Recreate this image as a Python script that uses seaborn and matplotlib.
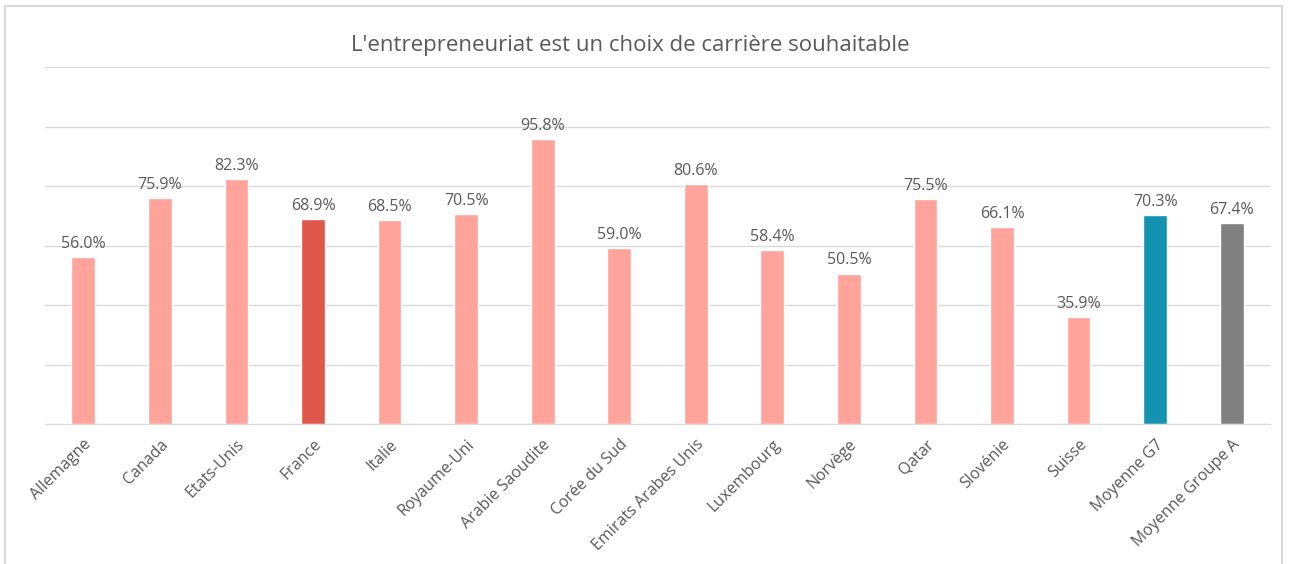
import matplotlib
matplotlib.use("Agg")
import matplotlib.pyplot as plt
import seaborn as sns
import pandas as pd
from matplotlib.patches import Rectangle

categories = ["Allemagne", "Canada", "Etats-Unis", "France", "Italie", "Royaume-Uni",
              "Arabie Saoudite", "Corée du Sud", "Emirats Arabes Unis", "Luxembourg",
              "Norvège", "Qatar", "Slovénie", "Suisse", "Moyenne G7", "Moyenne Groupe A"]
values = [56.0, 75.9, 82.3, 68.9, 68.5, 70.5, 95.8, 59.0, 80.6, 58.4, 50.5, 75.5, 66.1, 35.9, 70.3, 67.4]
title = "L'entrepreneuriat est un choix de carrière souhaitable"

pink = "#FFA39B"
colors = [pink] * len(categories)
colors[3] = "#E0574B"
colors[14] = "#1493B0"
colors[15] = "#808080"

sns.set_style("white")
plt.rcParams["font.family"] = ["Open Sans", "DejaVu Sans"]
txt = "#595959"

df = pd.DataFrame({"cat": categories, "val": values})
fig = plt.figure(figsize=(12.9, 5.64), dpi=100)
ax = fig.add_axes([45/1290, 1-424/564, 1225/1290, 357/564])
sns.barplot(data=df, x="cat", y="val", hue="cat", palette=colors, legend=False,
            width=0.31, ax=ax, saturation=1)
ax.set_ylim(0, 120)
ax.set_xlim(-0.5, len(categories)-0.5)
ax.set_yticks(range(0, 121, 20))
ax.set_yticklabels([])
ax.tick_params(axis="y", length=0)
ax.tick_params(axis="x", length=0, pad=9)
ax.yaxis.grid(True, color="#D9D9D9", linewidth=1)
ax.set_axisbelow(True)
for s in ["top", "right", "left"]:
    ax.spines[s].set_visible(False)
ax.spines["bottom"].set_color("#D9D9D9")
ax.set_xlabel("")
ax.set_ylabel("")
ax.set_xticks(range(len(categories)))
ax.set_xticklabels(categories, rotation=45, ha="right", rotation_mode="anchor",
                   fontsize=11.5, color=txt)
for i, v in enumerate(values):
    ax.text(i, v + 1.8, f"{v:.1f}%", ha="center", va="bottom", fontsize=11.5, color=txt)
fig.text(630/1290, 1-46/564, title, ha="center", va="center", fontsize=16, color=txt)
fig.patches.append(Rectangle((5/1290, -0.02), 1282/1290 - 5/1290, 1.02 - 6/564,
                             transform=fig.transFigure, fill=False,
                             edgecolor="#D9D9D9", linewidth=1.5))
fig.savefig("out.png", dpi=100)
